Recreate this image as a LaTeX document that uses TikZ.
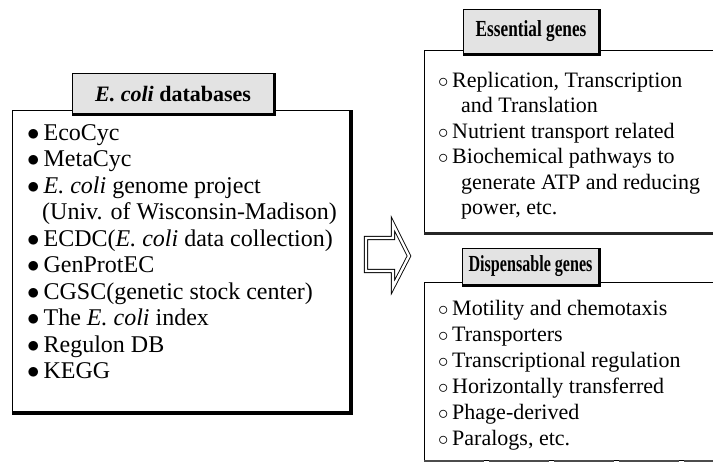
\documentclass[tikz,border=0pt]{standalone}
\usepackage{fontspec}
\setmainfont{Liberation Serif}
\begin{document}
\begin{tikzpicture}[x=1pt,y=-1pt,
  mainbox/.style={draw=black, line width=1.1pt, fill=white, inner sep=0pt, anchor=north west},
  shadowline/.style={line width=3.6pt, line cap=butt},
  titlebox/.style={draw=black, line width=1.1pt, fill=gray!22, inner sep=0pt, anchor=north west},
  titletext/.style={font=\fontsize{22}{26}\selectfont\bfseries, inner sep=0pt},
  rtitletext/.style={font=\fontsize{23}{27}\selectfont\bfseries, inner sep=0pt},
  item/.style={font=\fontsize{22}{26}\selectfont, anchor=base west, inner sep=0pt},
  litem/.style={font=\fontsize{24}{28}\selectfont, anchor=base west, inner sep=0pt},
]
\useasboundingbox (0,0) rectangle (713,466);
\clip (0,0) rectangle (713,466);

% ---------- left box ----------
\node[mainbox, minimum width=338pt, minimum height=302pt] (lbox) at (12,110) {};
\draw[shadowline] (lbox.north east) -- (lbox.south east) -- (lbox.south west);
\node[titlebox, minimum width=201pt, minimum height=40pt] (ltitle) at (72,73) {};
\draw[shadowline, line width=3pt] (ltitle.north east) -- (ltitle.south east) -- (ltitle.south west);
\node[titletext] (lt) at (ltitle.center) {\textit{E. coli} databases};

\node[litem] (l1) at (27,140) {$\bullet$\,EcoCyc};
\node[litem] (l2) at (27,166.5) {$\bullet$\,MetaCyc};
\node[litem] (l3) at (27,193) {$\bullet$\,\textit{E. coli} genome project};
\node[litem] (l4) at (42,219.5) {(Univ. of Wisconsin-Madison)};
\node[litem] (l5) at (27,246) {$\bullet$\,ECDC(\textit{E. coli} data collection)};
\node[litem] (l6) at (27,272.5) {$\bullet$\,GenProtEC};
\node[litem] (l7) at (27,299) {$\bullet$\,CGSC(genetic stock center)};
\node[litem] (l8) at (27,325.5) {$\bullet$\,The \textit{E. coli} index};
\node[litem] (l9) at (27,352) {$\bullet$\,Regulon DB};
\node[litem] (l10) at (27,378.5) {$\bullet$\,KEGG};

% ---------- arrow ----------
\draw[line width=0.9pt, double=white, double distance=2.4pt, line join=miter, fill=white]
  (366,238) -- (393,238) -- (393,224) -- (409,256) -- (393,287) -- (393,271) -- (366,271) -- cycle;

% ---------- essential genes ----------
\node[mainbox, minimum width=320pt, minimum height=182pt] (ebox) at (424,50) {};
\draw[shadowline, line width=3pt, draw=black!85] (ebox.south west) -- (ebox.south east);
\node[titlebox, minimum width=135pt, minimum height=44pt] (etitle) at (463,9) {};
\draw[shadowline, line width=3pt] (etitle.north east) -- (etitle.south east) -- (etitle.south west);
\node[rtitletext] (et) at (etitle.center) {\scalebox{0.75}[1]{Essential genes}};

\node[item] (e1) at (438,87) {$\circ$\,Replication, Transcription};
\node[item] (e2) at (461,112.5) {and Translation};
\node[item] (e3) at (438,138) {$\circ$\,Nutrient transport related};
\node[item] (e4) at (438,163.5) {$\circ$\,Biochemical pathways to};
\node[item] (e5) at (461,189) {generate ATP and reducing};
\node[item] (e6) at (461,214.5) {power, etc.};

% ---------- dispensable genes ----------
\node[mainbox, minimum width=320pt, minimum height=178pt] (dbox) at (424,282) {};
\draw[line width=2.2pt, draw=black!70, dash pattern=on 60pt off 5pt] (dbox.south west) -- (dbox.south east);
\node[titlebox, minimum width=136pt, minimum height=36pt] (dtitle) at (462,248) {};
\draw[shadowline, line width=3pt] (dtitle.north east) -- (dtitle.south east) -- (dtitle.south west);
\node[rtitletext] (dt) at (dtitle.center) {\scalebox{0.7}[1]{Dispensable genes}};

\node[item] (d1) at (438,315) {$\circ$\,Motility and chemotaxis};
\node[item] (d2) at (438,341) {$\circ$\,Transporters};
\node[item] (d3) at (438,367) {$\circ$\,Transcriptional regulation};
\node[item] (d4) at (438,393) {$\circ$\,Horizontally transferred};
\node[item] (d5) at (438,419) {$\circ$\,Phage-derived};
\node[item] (d6) at (438,445) {$\circ$\,Paralogs, etc.};
\end{tikzpicture}
\end{document}
